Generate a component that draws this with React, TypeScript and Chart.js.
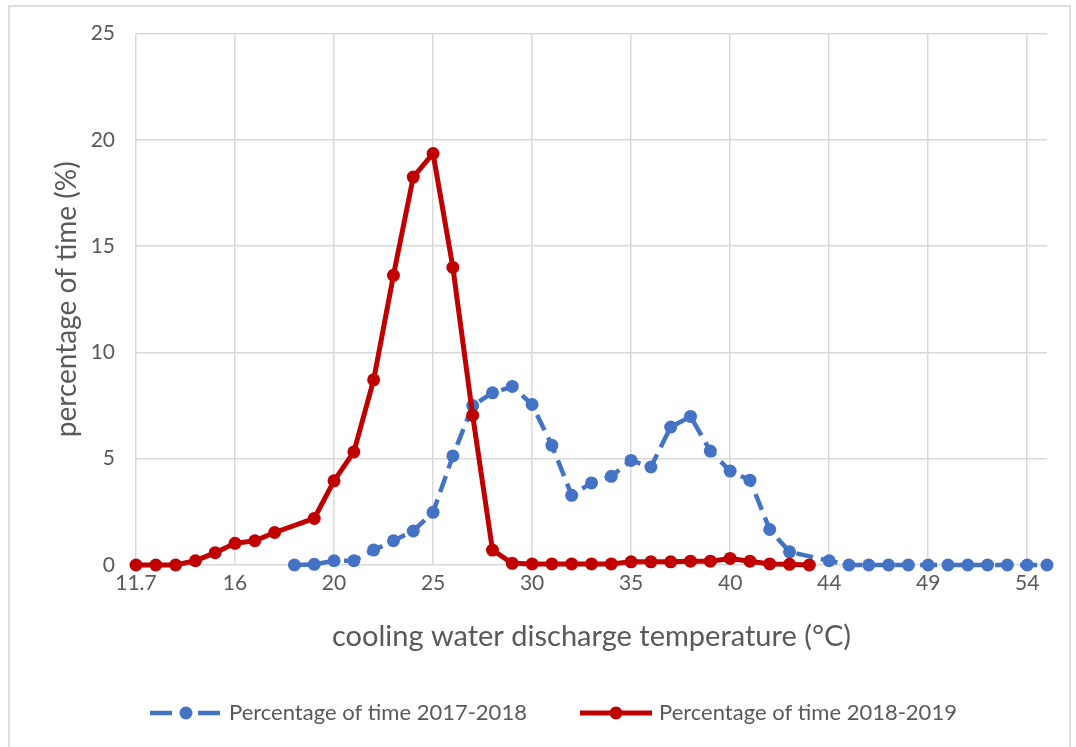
import React, { useEffect, useRef } from "react";
import { Chart, registerables } from "chart.js";

Chart.register(...registerables);

// Category axis (cooling water discharge temperature, °C)
const temperatureLabels: string[] = [
  "11.7", "12.5", "13.5", "14.5", "15.5",
  "16", "17", "18", "18.5", "19",
  "20", "21", "22", "23", "24", "25", "26", "27", "28", "29",
  "30", "31", "32", "33", "34", "35", "36", "37", "38", "39",
  "40", "41", "42", "43", "43.5",
  "44", "45", "46", "47", "48", "49", "50", "51", "52", "53", "54", "55",
];

// Tick labels shown on the x axis
const shownTickLabels: string[] = ["11.7", "16", "20", "25", "30", "35", "40", "44", "49", "54"];

// Y axis ticks
const yTickValues: number[] = [0, 5, 10, 15, 20, 25];

// Series names
const seriesNames: string[] = ["Percentage of time 2017-2018", "Percentage of time 2018-2019"];

// Percentage of time 2017-2018 (blue, dashed)
const series2017_2018: (number | null)[] = [
  null, null, null, null, null, null, null, null,
  0.0, 0.03, 0.2, 0.2, 0.7, 1.14, 1.6, 2.48, 5.13, 7.5, 8.1, 8.4,
  7.55, 5.63, 3.28, 3.86, 4.17, 4.92, 4.61, 6.49, 6.99, 5.36,
  4.42, 3.99, 1.67, 0.62, null,
  0.2, 0, 0, 0, 0, 0, 0, 0, 0, 0, 0, 0,
];

// Percentage of time 2018-2019 (red, solid)
const series2018_2019: (number | null)[] = [
  0, 0, 0, 0.2, 0.58, 1.02, 1.14, 1.53, null, 2.19,
  3.96, 5.32, 8.71, 13.63, 18.25, 19.36, 14.0, 7.04, 0.7, 0.08,
  0.05, 0.05, 0.05, 0.05, 0.05, 0.15, 0.15, 0.15, 0.18, 0.18,
  0.31, 0.18, 0.05, 0.03, 0.0,
  null, null, null, null, null, null, null, null, null, null, null, null,
];

const FONT = "Lato";
const TEXT = "#595959";
const GRID = "#d9d9d9";
const BLUE = "#4472c4";
const RED = "#c00000";

const shownSet = new Set(shownTickLabels);

const legendPlugin = {
  id: "excelLegend",
  afterDraw(chart: any) {
    const ctx = chart.ctx as CanvasRenderingContext2D;
    const y = 713;
    const starts = [150, 580];
    ctx.save();
    chart.data.datasets.forEach((ds: any, i: number) => {
      const x = starts[i];
      ctx.strokeStyle = ds.borderColor;
      ctx.lineWidth = ds.borderWidth;
      ctx.setLineDash(ds.borderDash && ds.borderDash.length ? [22, 26] : []);
      ctx.beginPath();
      ctx.moveTo(x, y);
      ctx.lineTo(x + 72, y);
      ctx.stroke();
      ctx.setLineDash([]);
      ctx.fillStyle = ds.borderColor;
      ctx.beginPath();
      ctx.arc(x + 36, y, 6.5, 0, Math.PI * 2);
      ctx.fill();
      ctx.font = `22px ${FONT}`;
      ctx.fillStyle = TEXT;
      ctx.textBaseline = "middle";
      ctx.textAlign = "left";
      ctx.fillText(ds.label, x + 79, y);
    });
    ctx.restore();
  },
};

export default function App() {
  const canvasRef = useRef<HTMLCanvasElement | null>(null);

  useEffect(() => {
    const canvas = canvasRef.current;
    if (!canvas) return;
    const chart = new Chart(canvas, {
      type: "line",
      data: {
        labels: temperatureLabels,
        datasets: [
          {
            label: seriesNames[0],
            data: series2017_2018,
            borderColor: BLUE,
            backgroundColor: BLUE,
            borderWidth: 4.5,
            borderDash: [17, 8],
            pointRadius: 6.5,
            pointBorderWidth: 0,
            pointBackgroundColor: BLUE,
            pointHoverRadius: 6.5,
            spanGaps: true,
            tension: 0,
            clip: false as any,
            order: 1,
          },
          {
            label: seriesNames[1],
            data: series2018_2019,
            borderColor: RED,
            backgroundColor: RED,
            borderWidth: 5,
            pointRadius: 6.5,
            pointBorderWidth: 0,
            pointBackgroundColor: RED,
            pointHoverRadius: 6.5,
            spanGaps: true,
            tension: 0,
            clip: false as any,
            order: 0,
          },
        ],
      },
      options: {
        responsive: false,
        animation: false,
        events: [],
        layout: { padding: { top: 32, right: 29, left: 0, bottom: 0 } },
        plugins: {
          legend: { display: false },
          tooltip: { enabled: false },
        },
        scales: {
          x: {
            type: "category",
            offset: false,
            border: { display: false },
            grid: {
              drawTicks: false,
              lineWidth: 1.5,
              color: (c: any) =>
                shownSet.has(temperatureLabels[c.index]) ? GRID : "rgba(0,0,0,0)",
            },
            ticks: {
              autoSkip: false,
              maxRotation: 0,
              minRotation: 0,
              padding: 6,
              color: TEXT,
              font: { family: FONT, size: 21 },
              callback: (_v: any, i: number) =>
                shownSet.has(temperatureLabels[i]) ? temperatureLabels[i] : "",
            },
            title: {
              display: true,
              text: "cooling water discharge temperature (°C)",
              color: TEXT,
              font: { family: FONT, size: 29 },
              padding: { top: 0, bottom: 93 },
            },
            afterFit: (scale: any) => {
              scale.height = 747 - 565;
            },
          },
          y: {
            min: 0,
            max: 25,
            border: { display: false },
            grid: { drawTicks: false, color: GRID, lineWidth: 1.5 },
            afterBuildTicks: (scale: any) => {
              scale.ticks = yTickValues.map((v) => ({ value: v }));
            },
            ticks: {
              padding: 21,
              color: TEXT,
              font: { family: FONT, size: 21 },
            },
            title: {
              display: true,
              text: "percentage of time (%)",
              color: TEXT,
              font: { family: FONT, size: 28 },
              padding: { top: 50, bottom: 0 },
            },
            afterFit: (scale: any) => {
              scale.width = 136;
            },
          },
        },
      },
      plugins: [legendPlugin],
    });
    return () => chart.destroy();
  }, []);

  return (
    <div
      style={{
        position: "absolute",
        left: 0,
        top: 0,
        width: 1076,
        height: 747,
        overflow: "hidden",
        background: "#ffffff",
      }}
    >
      <div
        style={{
          position: "absolute",
          left: 8,
          top: 5,
          width: 1063,
          height: 800,
          border: "2px solid #dedede",
          boxSizing: "border-box",
        }}
      />
      <canvas
        ref={canvasRef}
        width={1076}
        height={747}
        style={{ position: "absolute", left: 0, top: 0, width: 1076, height: 747 }}
      />
    </div>
  );
}
